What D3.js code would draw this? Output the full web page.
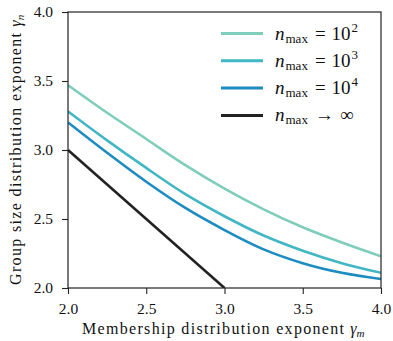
<!DOCTYPE html>
<html>
<head>
<meta charset="utf-8">
<script src="https://cdn.jsdelivr.net/npm/d3@7"></script>
<style>
  body { margin: 0; background: #fff; }
  svg text { font-family: "Liberation Serif", "DejaVu Serif", serif; fill: #111; }
</style>
</head>
<body>
<div id="chart"></div>
<script>
// membership exponent samples
const gammaM = [2.0, 2.25, 2.5, 2.75, 3.0, 3.25, 3.5, 3.75, 4.0];
// group size exponent for each n_max
const nmax1e2 = [3.47, 3.27, 3.08, 2.89, 2.72, 2.57, 2.44, 2.33, 2.23];
const nmax1e3 = [3.28, 3.07, 2.87, 2.68, 2.52, 2.38, 2.27, 2.18, 2.11];
const nmax1e4 = [3.20, 2.98, 2.77, 2.58, 2.42, 2.28, 2.18, 2.11, 2.065];
const infGammaM = [2.0, 3.0];
const nmaxInf = [3.0, 2.0];
const xTicks = [2.0, 2.5, 3.0, 3.5, 4.0];
const yTicks = [2.0, 2.5, 3.0, 3.5, 4.0];

const series = [
  { exp: "2", xs: gammaM, ys: nmax1e2, color: "#7fcdbb" },
  { exp: "3", xs: gammaM, ys: nmax1e3, color: "#41b6c4" },
  { exp: "4", xs: gammaM, ys: nmax1e4, color: "#1d8cc0" },
  { exp: null, xs: infGammaM, ys: nmaxInf, color: "#222222" }
];

const W = 393, H = 341;
const m = { left: 68, right: 12, top: 12, bottom: 53 };

const svg = d3.select("#chart").append("svg")
  .attr("width", W).attr("height", H);

const x = d3.scaleLinear().domain([2, 4]).range([m.left, W - m.right]);
const y = d3.scaleLinear().domain([2, 4]).range([H - m.bottom, m.top]);

svg.append("defs").append("clipPath").attr("id", "clip")
  .append("rect")
  .attr("x", m.left).attr("y", m.top)
  .attr("width", W - m.left - m.right).attr("height", H - m.top - m.bottom);

const line = d3.line()
  .x(d => x(d[0])).y(d => y(d[1]))
  .curve(d3.curveMonotoneX);

const g = svg.append("g").attr("clip-path", "url(#clip)");
series.forEach(s => {
  g.append("path")
    .datum(s.xs.map((v, i) => [v, s.ys[i]]))
    .attr("d", line)
    .attr("fill", "none")
    .attr("stroke", s.color)
    .attr("stroke-width", 2.6);
});

// axes
const xAxis = svg.append("g")
  .attr("transform", `translate(0,${H - m.bottom})`)
  .call(d3.axisBottom(x).tickValues(xTicks).tickFormat(d3.format(".1f")).tickSize(6).tickPadding(9));
const yAxis = svg.append("g")
  .attr("transform", `translate(${m.left},0)`)
  .call(d3.axisLeft(y).tickValues(yTicks).tickFormat(d3.format(".1f")).tickSize(6).tickPadding(9));

[xAxis, yAxis].forEach(a => {
  a.select(".domain").remove();
  a.selectAll("line").attr("stroke", "#222").attr("stroke-width", 1.1);
  a.selectAll("text").style("font-size", "15.5px").attr("fill", "#111");
});

// frame
svg.append("rect")
  .attr("x", m.left).attr("y", m.top)
  .attr("width", W - m.left - m.right).attr("height", H - m.top - m.bottom)
  .attr("fill", "none").attr("stroke", "#222").attr("stroke-width", 1.2);

// axis titles
const xl = svg.append("text")
  .attr("x", 82).attr("y", 334)
  .style("font-size", "16px");
xl.append("tspan").attr("textLength", 262).attr("lengthAdjust", "spacing")
  .text("Membership distribution exponent");
xl.append("tspan").attr("dx", 5).attr("font-style", "italic").text("γ");
xl.append("tspan").attr("font-style", "italic").attr("dy", 3).style("font-size", "11px").text("m");

const yl = svg.append("g").attr("transform", `translate(21,285) rotate(-90)`)
  .append("text").style("font-size", "16px");
yl.append("tspan").attr("textLength", 252).attr("lengthAdjust", "spacing")
  .text("Group size distribution exponent");
yl.append("tspan").attr("dx", 5).attr("font-style", "italic").text("γ");
yl.append("tspan").attr("font-style", "italic").attr("dy", 3).style("font-size", "11px").text("n");

// legend
const leg = svg.append("g");
series.forEach((s, i) => {
  const ly = 33.5 + i * 27.3;
  leg.append("line")
    .attr("x1", 221).attr("x2", 263).attr("y1", ly).attr("y2", ly)
    .attr("stroke", s.color).attr("stroke-width", 3);
  const t = leg.append("text").attr("x", 275).attr("y", ly + 6).style("font-size", "19px");
  t.append("tspan").attr("font-style", "italic").text("n");
  t.append("tspan").attr("dx", 1).attr("dy", 3).style("font-size", "13px").text("max");
  if (s.exp) {
    t.append("tspan").attr("dx", 7).attr("dy", -3).text("=");
    t.append("tspan").attr("dx", 6).text("10");
    t.append("tspan").attr("dx", 1).attr("dy", -8).style("font-size", "13px").text(s.exp);
  } else {
    t.append("tspan").attr("dx", 7).attr("dy", -3).text("→");
    t.append("tspan").attr("dx", 6).text("∞");
  }
});
</script>
</body>
</html>
